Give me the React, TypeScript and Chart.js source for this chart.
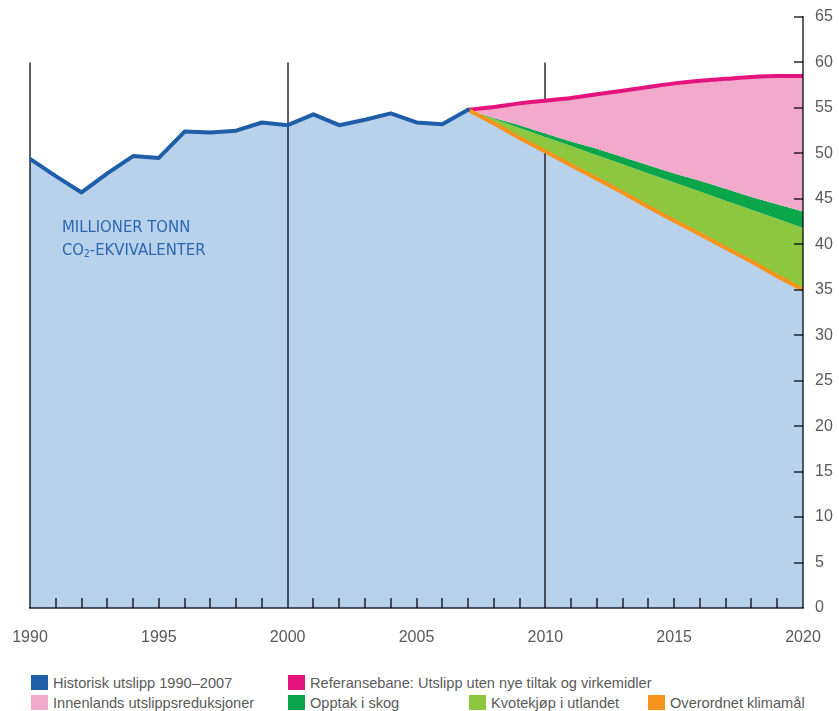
import React, { useEffect, useRef } from "react";
import { Chart, registerables } from "chart.js";

Chart.register(...registerables);

// Historical emissions, million tonnes CO2-equivalents
const historyYears = [1990, 1991, 1992, 1993, 1994, 1995, 1996, 1997, 1998, 1999, 2000, 2001, 2002, 2003, 2004, 2005, 2006, 2007];
const historyValues = [49.4, 47.5, 45.7, 47.8, 49.7, 49.5, 52.4, 52.3, 52.5, 53.4, 53.1, 54.3, 53.1, 53.7, 54.4, 53.4, 53.2, 54.8];

// Projection years 2007–2020
const projectionYears = [2007, 2008, 2009, 2010, 2011, 2012, 2013, 2014, 2015, 2016, 2017, 2018, 2019, 2020];
// Reference path: emissions without new measures
const referenceValues = [54.8, 55.1, 55.5, 55.8, 56.1, 56.5, 56.9, 57.3, 57.7, 58.0, 58.2, 58.4, 58.5, 58.5];
// Level after domestic reductions (bottom of pink band)
const afterDomesticValues = [54.8, 53.9, 53.1, 52.2, 51.3, 50.5, 49.6, 48.7, 47.8, 47.0, 46.1, 45.2, 44.4, 43.6];
// Level after forest uptake (bottom of dark green band)
const afterForestValues = [54.8, 53.8, 52.8, 51.8, 50.8, 49.8, 48.8, 47.8, 46.8, 45.8, 44.8, 43.8, 42.8, 41.8];
// Overall climate target path
const goalValues = [54.8, 53.3, 51.7, 50.2, 48.7, 47.2, 45.7, 44.1, 42.6, 41.1, 39.6, 38.1, 36.5, 35.0];

const yTicks = [0, 5, 10, 15, 20, 25, 30, 35, 40, 45, 50, 55, 60, 65];
const dividerYears = [1990, 2000, 2010];

const legendRow1 = [
  { label: "Historisk utslipp 1990–2007", color: "#1f5ea8", x: 31 },
  { label: "Referansebane: Utslipp uten nye tiltak og virkemidler", color: "#e4137e", x: 288 },
];
const legendRow2 = [
  { label: "Innenlands utslippsreduksjoner", color: "#f3a9cb", x: 31 },
  { label: "Opptak i skog", color: "#0ba64b", x: 288 },
  { label: "Kvotekjøp i utlandet", color: "#8dc63f", x: 469 },
  { label: "Overordnet klimamål", color: "#f7941d", x: 648 },
];

const COLORS = {
  blueFill: "#b9d2ec",
  blueLine: "#1f5ea8",
  magenta: "#e4137e",
  pink: "#f3a9cb",
  darkGreen: "#0ba64b",
  lightGreen: "#8dc63f",
  orange: "#f7941d",
};

const pts = (xs: number[], ys: number[]) => xs.map((x, i) => ({ x, y: ys[i] }));

const FONT = "'Liberation Sans', Arial, sans-serif";

const axisDecor = {
  id: "axisDecor",
  afterDatasetDraw(chart: any, args: any) {
    // after the blue base area: year dividers and minor year ticks
    if (args.index !== 5) return;
    const { ctx, chartArea, scales } = chart;
    const xs = scales.x;
    const ys = scales.y;
    ctx.save();
    ctx.globalCompositeOperation = "multiply";
    ctx.strokeStyle = "#5c5f66";
    ctx.lineWidth = 2;
    const top = ys.getPixelForValue(60);
    for (const yr of dividerYears) {
      const px = Math.round(xs.getPixelForValue(yr));
      ctx.beginPath();
      ctx.moveTo(px, top);
      ctx.lineTo(px, chartArea.bottom);
      ctx.stroke();
    }
    for (let yr = 1991; yr < 2020; yr++) {
      if (dividerYears.includes(yr)) continue;
      const px = Math.round(xs.getPixelForValue(yr));
      ctx.beginPath();
      ctx.moveTo(px, chartArea.bottom - 10);
      ctx.lineTo(px, chartArea.bottom);
      ctx.stroke();
    }
    ctx.restore();
  },
  afterDatasetsDraw(chart: any) {
    const { ctx, chartArea, scales } = chart;
    const ys = scales.y;
    const right = chartArea.right;
    ctx.save();
    ctx.globalCompositeOperation = "multiply";
    ctx.strokeStyle = "#5c5f66";
    ctx.lineWidth = 2;
    // bottom axis line
    ctx.beginPath();
    ctx.moveTo(chartArea.left - 1, chartArea.bottom);
    ctx.lineTo(right + 1, chartArea.bottom);
    ctx.stroke();
    // right axis line
    ctx.beginPath();
    ctx.moveTo(right, ys.getPixelForValue(65) - 1);
    ctx.lineTo(right, chartArea.bottom);
    ctx.stroke();
    // inner tick marks
    for (const v of yTicks) {
      if (v === 0) continue;
      const py = Math.round(ys.getPixelForValue(v));
      ctx.beginPath();
      ctx.moveTo(right - 9, py);
      ctx.lineTo(right, py);
      ctx.stroke();
    }
    ctx.restore();
  },
};

export default function App() {
  const canvasRef = useRef<HTMLCanvasElement | null>(null);

  useEffect(() => {
    if (!canvasRef.current) return;
    const blueArea = [
      ...pts(historyYears, historyValues),
      ...pts(projectionYears.slice(1), goalValues.slice(1)),
    ];
    const chart = new Chart(canvasRef.current, {
      type: "line",
      data: {
        datasets: [
          {
            label: "Historisk utslipp 1990–2007",
            data: pts(historyYears, historyValues),
            borderColor: COLORS.blueLine,
            borderWidth: 4,
            borderJoinStyle: "round",
            borderCapStyle: "round",
            pointRadius: 0,
            fill: false,
            tension: 0,
            order: 1,
          },
          {
            label: "Referansebane",
            data: pts(projectionYears, referenceValues),
            borderColor: COLORS.magenta,
            backgroundColor: COLORS.pink,
            borderWidth: 4,
            borderCapStyle: "round",
            pointRadius: 0,
            fill: 2,
            cubicInterpolationMode: "monotone",
            order: 3,
          },
          {
            label: "Opptak i skog",
            data: pts(projectionYears, afterDomesticValues),
            borderWidth: 0,
            borderColor: "rgba(0,0,0,0)",
            backgroundColor: COLORS.darkGreen,
            pointRadius: 0,
            fill: 3,
            order: 4,
          },
          {
            label: "Kvotekjøp i utlandet",
            data: pts(projectionYears, afterForestValues),
            borderWidth: 0,
            borderColor: "rgba(0,0,0,0)",
            backgroundColor: COLORS.lightGreen,
            pointRadius: 0,
            fill: 4,
            order: 5,
          },
          {
            label: "Overordnet klimamål",
            data: pts(projectionYears, goalValues),
            borderColor: COLORS.orange,
            borderWidth: 4,
            borderCapStyle: "round",
            pointRadius: 0,
            fill: false,
            order: 2,
          },
          {
            label: "base",
            data: blueArea,
            borderWidth: 0,
            borderColor: "rgba(0,0,0,0)",
            backgroundColor: COLORS.blueFill,
            pointRadius: 0,
            fill: "origin",
            order: 6,
          },
        ],
      },
      options: {
        responsive: false,
        animation: false,
        devicePixelRatio: 1,
        layout: { padding: { left: 30, top: 17, right: 0, bottom: 0 } },
        plugins: {
          legend: { display: false },
          tooltip: { enabled: false },
        },
        scales: {
          x: {
            type: "linear",
            min: 1990,
            max: 2020,
            grid: { display: false, drawTicks: false },
            border: { display: false },
            ticks: {
              stepSize: 5,
              autoSkip: false,
              maxRotation: 0,
              padding: 11,
              color: "#5a5a5a",
              font: { family: FONT, size: 16, lineHeight: 2.3 },
              callback: (v: any) => String(v),
            },
            afterFit: (s: any) => {
              s.height = 42;
            },
          },
          y: {
            position: "right",
            min: 0,
            max: 65,
            grid: { display: false, drawTicks: false },
            border: { display: false },
            ticks: {
              stepSize: 5,
              padding: 12,
              color: "#5a5a5a",
              font: { family: FONT, size: 16, lineHeight: 0.5 },
              callback: (v: any) => String(v),
            },
            afterFit: (s: any) => {
              s.width = 36;
            },
          },
        },
      },
      plugins: [axisDecor],
    });
    return () => chart.destroy();
  }, []);

  const swatch = (color: string, x: number, cy: number) => (
    <div style={{ position: "absolute", left: x, top: cy - 8, width: 17, height: 15, background: color }} />
  );

  const legendText = (text: string, x: number, cy: number) => (
    <div
      style={{
        position: "absolute",
        left: x + 22,
        top: cy - 10,
        height: 20,
        lineHeight: "20px",
        fontFamily: FONT,
        fontSize: 14.6,
        color: "#5a5a5a",
        whiteSpace: "nowrap",
      }}
    >
      {text}
    </div>
  );

  return (
    <div style={{ position: "fixed", left: 0, top: 0, width: 839, height: 711, background: "#fff", overflow: "hidden" }}>
      <canvas ref={canvasRef} width={839} height={650} style={{ display: "block", width: 839, height: 650 }} />
      <div
        style={{
          position: "absolute",
          left: 62,
          top: 215,
          fontFamily: "'Liberation Sans Narrow', 'DejaVu Sans Condensed', sans-serif",
          fontSize: 16.5,
          lineHeight: "23px",
          color: "#2d66b0",
          whiteSpace: "nowrap",
        }}
      >
        <div>MILLIONER TONN</div>
        <div>
          CO<sub style={{ fontSize: 10, verticalAlign: "-2px", lineHeight: 0 }}>2</sub>-EKVIVALENTER
        </div>
      </div>
      {legendRow1.map((it) => (
        <React.Fragment key={it.label}>
          {swatch(it.color, it.x, 683)}
          {legendText(it.label, it.x, 683)}
        </React.Fragment>
      ))}
      {legendRow2.map((it) => (
        <React.Fragment key={it.label}>
          {swatch(it.color, it.x, 703)}
          {legendText(it.label, it.x, 703)}
        </React.Fragment>
      ))}
    </div>
  );
}
